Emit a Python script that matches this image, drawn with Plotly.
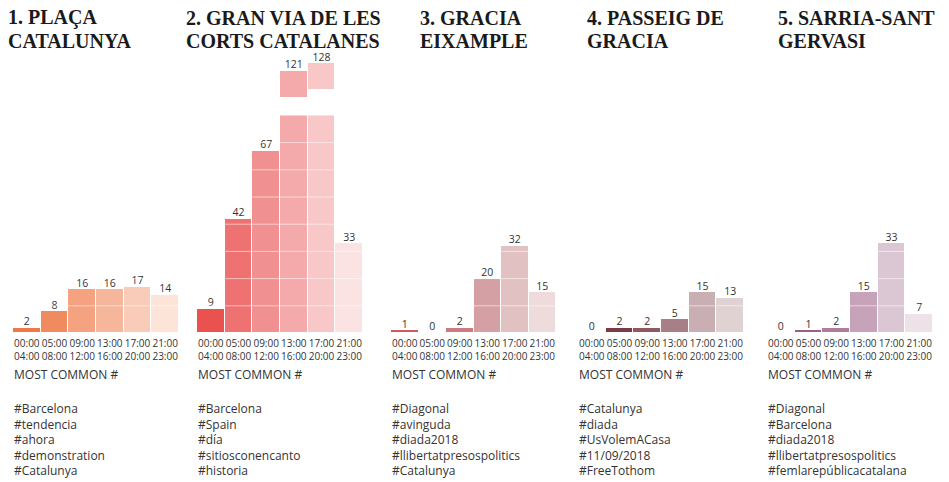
import plotly.graph_objects as go
from plotly.subplots import make_subplots

# Time bins
bin_start = ["00:00", "05:00", "09:00", "13:00", "17:00", "21:00"]
bin_end = ["04:00", "08:00", "12:00", "16:00", "20:00", "23:00"]

# Neighbourhoods
titles = [
    ["1. PLAÇA", "CATALUNYA"],
    ["2. GRAN VIA DE LES", "CORTS CATALANES"],
    ["3. GRACIA", "EIXAMPLE"],
    ["4. PASSEIG DE", "GRACIA"],
    ["5. SARRIA-SANT", "GERVASI"],
]

# Tweets per time bin
counts_1 = [2, 8, 16, 16, 17, 14]
counts_2 = [9, 42, 67, 121, 128, 33]
counts_3 = [1, 0, 2, 20, 32, 15]
counts_4 = [0, 2, 2, 5, 15, 13]
counts_5 = [0, 1, 2, 15, 33, 7]
counts = [counts_1, counts_2, counts_3, counts_4, counts_5]

# Most common hashtags
tags_1 = ["#Barcelona", "#tendencia", "#ahora", "#demonstration", "#Catalunya"]
tags_2 = ["#Barcelona", "#Spain", "#día", "#sitiosconencanto", "#historia"]
tags_3 = ["#Diagonal", "#avinguda", "#diada2018", "#llibertatpresospolitics", "#Catalunya"]
tags_4 = ["#Catalunya", "#diada", "#UsVolemACasa", "#11/09/2018", "#FreeTothom"]
tags_5 = ["#Diagonal", "#Barcelona", "#diada2018", "#llibertatpresospolitics", "#femlarepúblicacatalana"]
tags = [tags_1, tags_2, tags_3, tags_4, tags_5]

# Colour ramps (dark -> light)
palettes = [
    ["#ee7848", "#f08b5f", "#f4a27f", "#f6b69c", "#f9ccb9", "#fce4d9"],
    ["#e9524f", "#ee7272", "#f19090", "#f4aaaa", "#f8c7c7", "#fbe3e3"],
    ["#cc5a5f", "#cf7479", "#cf7a80", "#d4a0a4", "#e2c1c3", "#eedcdd"],
    ["#7b3a45", "#7b3a45", "#8f5862", "#a87f87", "#c9afb3", "#e0d1d3"],
    ["#9c5f86", "#9c5f86", "#b07c9c", "#c6a3b8", "#dbc7d3", "#ede2e8"],
]

W, H = 949, 482
panel_px = [(13, 179), (197, 363), (391, 556), (578, 744), (767, 933)]
title_px = [6, 184, 418, 585, 776]
base_px = 333
top_px = 61
y_max = 100
cap = 80          # axis break for very tall bars
squeeze = 0.4     # compression above the break
piece = 10        # height of the floating top piece

TEXT = "#333333"
SANS = "Open Sans"
SERIF = "Liberation Serif"

fig = make_subplots(rows=1, cols=5)

for i, vals in enumerate(counts):
    col = i + 1
    ax = "" if col == 1 else str(col)
    shown = [v if v <= cap else cap + (v - cap) * squeeze for v in vals]
    lower = [min(v, cap) for v in vals]
    fig.add_trace(go.Bar(
        x=bin_start, y=lower, marker=dict(color=palettes[i], line=dict(color="white", width=1)),
        width=1, hoverinfo="skip"), row=1, col=col)
    broken = [v > cap for v in vals]
    if any(broken):
        fig.add_trace(go.Bar(
            x=[b for b, k in zip(bin_start, broken) if k],
            y=[piece for k in broken if k],
            base=[s - piece for s, k in zip(shown, broken) if k],
            marker=dict(color=[c for c, k in zip(palettes[i], broken) if k],
                        line=dict(color="white", width=1)),
            width=1, hoverinfo="skip"), row=1, col=col)
    fig.add_trace(go.Scatter(
        x=bin_start, y=shown, mode="text", text=[str(v) for v in vals],
        textposition="top center", textfont=dict(family=SANS, size=10.5, color=TEXT),
        cliponaxis=False, hoverinfo="skip"), row=1, col=col)

    # white guide lines every 10 tweets, drawn over the bars
    for g in range(10, cap + 1, 10):
        fig.add_shape(type="line", xref=f"x{ax} domain", yref=f"y{ax}",
                      x0=0, x1=1, y0=g, y1=g, layer="above",
                      line=dict(color="rgba(255,255,255,0.55)", width=1))

    x0, x1 = panel_px[i]
    fig.update_xaxes(domain=[x0 / W, x1 / W], type="category",
                     tickvals=bin_start, tickangle=0, ticklabelstandoff=3,
                     ticktext=[f"{a}<br>{b}" for a, b in zip(bin_start, bin_end)],
                     tickfont=dict(family=SANS, size=10, color=TEXT),
                     showgrid=False, showline=False, zeroline=False, ticks="",
                     row=1, col=col)
    fig.update_yaxes(domain=[1 - base_px / H, 1 - top_px / H], range=[0, y_max],
                     visible=False, row=1, col=col)

    # titles
    tx = title_px[i] / W
    for j, line in enumerate(titles[i]):
        fig.add_annotation(x=tx, y=1 - (18 + 23 * j) / H, xref="paper", yref="paper",
                           text=f"<b>{line}</b>", showarrow=False,
                           xanchor="left", yanchor="middle",
                           font=dict(family=SERIF, size=20, color="#1a1a1a"))

    # hashtag list
    fig.add_annotation(x=(x0 - 1) / W, y=1 - 374 / H, xref="paper", yref="paper",
                       text="MOST COMMON #", showarrow=False,
                       xanchor="left", yanchor="middle",
                       font=dict(family=SANS, size=12, color=TEXT))
    fig.add_annotation(x=(x0 - 1) / W, y=1 - 398 / H, xref="paper", yref="paper",
                       text="<br>".join(tags[i]), showarrow=False, align="left",
                       xanchor="left", yanchor="top",
                       font=dict(family=SANS, size=12, color=TEXT))

fig.update_layout(
    width=W, height=H,
    margin=dict(l=0, r=0, t=0, b=0),
    barmode="overlay", bargap=0,
    showlegend=False,
    paper_bgcolor="white", plot_bgcolor="white",
)

fig.write_html("out.html", config={"displayModeBar": False},
               post_script="document.body.style.margin='0';")
